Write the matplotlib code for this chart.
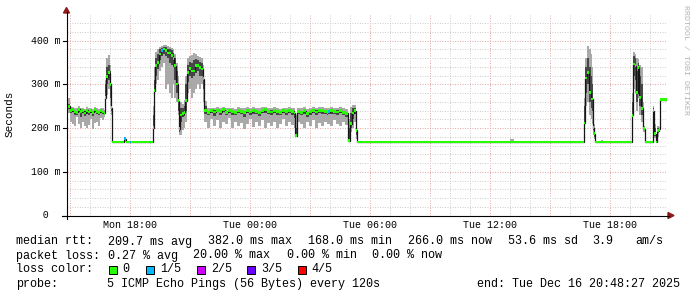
import matplotlib
matplotlib.use('Agg')
import matplotlib.pyplot as plt
import numpy as np
import pandas as pd
from matplotlib.patches import Polygon, Rectangle
from matplotlib.lines import Line2D
import matplotlib.transforms as mtrans

# ---------------- data ----------------
start = pd.Timestamp('2025-12-15 14:48:27')
end = pd.Timestamp('2025-12-16 20:48:27')

# sample start times, hours after `start`
t_h = [0.000, 0.175, 0.275, 0.375, 0.475, 0.575, 0.675, 0.775, 0.875, 0.975,
       1.075, 1.175, 1.275, 1.375, 1.475, 1.575, 1.675, 1.775, 1.875, 1.925,
       1.975, 2.075, 2.175, 2.225, 2.275, 2.875, 2.975, 3.175, 3.225, 4.125,
       4.175, 4.325, 4.375, 4.425, 4.525, 4.625, 4.725, 4.825, 4.925, 5.025,
       5.125, 5.225, 5.325, 5.375, 5.475, 5.575, 5.625, 5.675, 5.775, 5.875,
       5.925, 6.025, 6.125, 6.225, 6.325, 6.425, 6.525, 6.625, 6.725, 6.825,
       6.875, 7.025, 7.175, 7.325, 7.475, 7.625, 7.775, 7.925, 8.075, 8.225,
       8.375, 8.525, 8.675, 8.825, 8.975, 9.125, 9.275, 9.425, 9.575, 9.725,
       9.875, 10.025, 10.175, 10.325, 10.475, 10.625, 10.775, 10.925, 11.075, 11.225,
       11.375, 11.425, 11.525, 11.675, 11.825, 11.975, 12.125, 12.275, 12.425, 12.575,
       12.725, 12.875, 13.025, 13.075, 13.175, 13.325, 13.475, 13.625, 13.775, 13.925,
       14.075, 14.175, 14.275, 14.375, 14.475, 14.525, 22.175, 22.375, 25.875, 25.925,
       26.025, 26.125, 26.225, 26.275, 26.325, 26.375, 26.425, 26.725, 26.825, 28.275,
       28.325, 28.425, 28.475, 28.575, 28.625, 28.725, 28.825, 28.875, 28.925, 29.325,
       29.375, 29.475, 29.525, 29.625, 29.675]

# median rtt (ms)
median_ms = [250, 240, 242, 238, 236, 243, 238, 240, 235, 241,
             237, 240, 236, 242, 238, 236, 240, 237, 234, 270,
             318, 327, 300, 247, 168, 176, 168, 168, 168, 168,
             168, 201, 286, 343, 350, 370, 377, 381, 378, 372,
             372, 366, 360, 343, 301, 263, 199, 230, 233, 236,
             263, 327, 336, 331, 331, 343, 343, 339, 335, 313,
             240, 236, 240, 237, 241, 238, 242, 236, 240, 238,
             236, 241, 238, 236, 240, 237, 240, 238, 236, 240,
             242, 238, 237, 240, 238, 236, 240, 238, 241, 238,
             235, 183, 238, 236, 240, 234, 238, 240, 237, 241,
             240, 238, 236, 238, 240, 238, 237, 240, 236, 234,
             171, 210, 235, 240, 195, 168, 168, 168, 212, 315,
             327, 281, 267, 267, 201, 187, 168, 168, 168, 229,
             347, 343, 281, 339, 270, 245, 199, 199, 168, 240,
             187, 168, 194, 197, 265]

# fastest ping (ms)
min_ms = [235, 215, 210, 205, 225, 210, 200, 215, 205, 200,
          208, 220, 198, 212, 215, 205, 222, 218, 225, 245,
          275, 290, 250, 230, 168, 168, 168, 168, 168, 168,
          168, 185, 240, 300, 310, 330, 340, 350, 290, 300,
          280, 270, 300, 270, 260, 230, 185, 185, 195, 200,
          215, 280, 290, 270, 280, 290, 300, 290, 300, 260,
          215, 200, 220, 205, 218, 200, 215, 210, 222, 200,
          215, 205, 212, 198, 210, 220, 202, 215, 205, 218,
          200, 212, 205, 215, 200, 210, 220, 205, 215, 208,
          200, 180, 215, 210, 200, 215, 205, 218, 200, 212,
          205, 215, 210, 210, 205, 218, 210, 205, 215, 208,
          168, 190, 200, 215, 175, 168, 168, 168, 175, 250,
          260, 230, 220, 210, 185, 175, 168, 168, 168, 190,
          290, 280, 240, 270, 230, 215, 190, 190, 168, 220,
          178, 168, 180, 190, 265]

# 2nd fastest ping (ms)
low_ms = [244, 234, 236, 230, 231, 236, 226, 235, 228, 233,
          230, 235, 228, 236, 232, 229, 235, 232, 229, 255,
          300, 310, 270, 240, 168, 172, 168, 168, 168, 168,
          168, 195, 260, 320, 335, 355, 365, 370, 365, 360,
          350, 345, 340, 310, 280, 240, 192, 215, 225, 228,
          240, 305, 320, 315, 320, 325, 330, 320, 320, 290,
          232, 230, 235, 228, 236, 229, 237, 229, 235, 231,
          230, 234, 232, 226, 235, 231, 233, 232, 228, 234,
          235, 232, 229, 235, 229, 230, 234, 231, 235, 231,
          222, 182, 232, 229, 233, 226, 230, 235, 229, 235,
          233, 232, 229, 232, 233, 232, 230, 234, 229, 226,
          170, 200, 220, 232, 185, 168, 168, 168, 190, 280,
          300, 260, 245, 240, 195, 180, 168, 168, 168, 210,
          320, 310, 260, 300, 250, 230, 195, 195, 168, 230,
          182, 168, 188, 194, 265]

# 2nd slowest ping (ms)
high_ms = [256, 243, 245, 242, 240, 246, 241, 243, 239, 244,
           240, 243, 239, 245, 241, 239, 243, 240, 237, 300,
           340, 345, 330, 280, 168, 178, 168, 168, 168, 168,
           168, 230, 310, 360, 370, 380, 384, 386, 385, 382,
           380, 378, 372, 360, 330, 290, 230, 245, 245, 250,
           300, 345, 352, 350, 355, 358, 355, 352, 350, 335,
           250, 240, 243, 241, 244, 242, 245, 240, 243, 242,
           239, 244, 241, 240, 243, 240, 244, 241, 240, 243,
           245, 242, 241, 243, 242, 239, 243, 241, 244, 242,
           240, 200, 242, 240, 243, 238, 242, 243, 241, 244,
           243, 242, 240, 241, 243, 242, 241, 243, 240, 238,
           200, 235, 245, 246, 215, 168, 168, 168, 250, 340,
           360, 340, 320, 300, 230, 200, 168, 168, 168, 260,
           365, 360, 330, 350, 320, 300, 240, 200, 168, 245,
           200, 168, 200, 200, 265]

# slowest ping (ms)
max_ms = [268, 248, 249, 246, 245, 250, 245, 247, 244, 249,
          245, 247, 244, 249, 246, 244, 247, 245, 242, 310,
          360, 368, 345, 300, 168, 180, 168, 168, 168, 168,
          168, 250, 340, 375, 380, 386, 388, 390, 390, 388,
          386, 384, 380, 370, 350, 320, 250, 260, 255, 265,
          320, 360, 365, 368, 372, 370, 365, 362, 360, 345,
          262, 245, 247, 246, 249, 247, 249, 245, 247, 246,
          244, 248, 246, 245, 248, 245, 248, 246, 245, 248,
          249, 246, 246, 248, 247, 244, 247, 246, 249, 247,
          246, 230, 247, 245, 248, 243, 246, 248, 246, 249,
          248, 247, 245, 246, 248, 246, 246, 248, 245, 244,
          220, 248, 252, 252, 225, 168, 176, 168, 270, 360,
          389, 380, 370, 340, 250, 210, 168, 173, 168, 280,
          375, 370, 360, 358, 345, 340, 260, 205, 168, 250,
          210, 168, 205, 203, 265]

# lost pings out of 5
loss = [0] * 25 + [1, 0, 1, 0, 1, 0] + [0] * 5 + [1] + [0] * 66 + [1] + [0] * 46

loss_labels = ['0', '1/5', '2/5', '3/5', '4/5']
loss_colors = ['#26ff00', '#00b8ff', '#d000ff', '#6a00ff', '#ff0000']

tick_times = ['2025-12-15 18:00', '2025-12-16 00:00', '2025-12-16 06:00',
              '2025-12-16 12:00', '2025-12-16 18:00']
tick_labels = ['Mon 18:00', 'Tue 00:00', 'Tue 06:00', 'Tue 12:00', 'Tue 18:00']
y_major = [0, 100, 200, 300, 400]
y_labels = ['0', '100 m', '200 m', '300 m', '400 m']

stats_rtt = ['median rtt:', '209.7 ms avg', '382.0 ms max', '168.0 ms min',
             '266.0 ms now', '53.6 ms sd', '3.9', 'am/s']
stats_loss = ['packet loss:', '0.27 % avg', '20.00 % max', '0.00 % min', '0.00 % now']
probe_items = ['probe:', '5 ICMP Echo Pings (56 Bytes) every 120s']
end_text = 'end: Tue Dec 16 20:48:27 2025'

# ---------------- figure ----------------
W, H = 697, 297
fig = plt.figure(figsize=(W / 100, H / 100), dpi=100)
fig.patch.set_facecolor('white')
L, R, B, T = 66.5, 666.5, 215.5, 14.5
ax = fig.add_axes([L / W, (H - B) / H, (R - L) / W, (B - T) / H])
span_h = (end - start) / pd.Timedelta(hours=1)
ymax = 460 * (B - T) / 201.0
ax.set_xlim(0, span_h)
ax.set_ylim(0, ymax)
ax.set_axis_off()

MONO = 'Liberation Mono'

# grid
hours = pd.date_range(start.ceil('h'), end, freq='h')
for hh in hours:
    xh = (hh - start) / pd.Timedelta(hours=1)
    major = hh.hour % 3 == 0
    ax.axvline(xh, color='#e6a9a9' if major else '#cfcfcf', lw=0.72,
               linestyle=(0, (1, 1.5)), zorder=0)
for yv in np.arange(20, ymax, 20):
    major = int(round(yv)) % 100 == 0
    ax.axhline(yv, color='#e6a9a9' if major else '#cfcfcf', lw=0.72,
               linestyle=(0, (1, 1.5)), zorder=0)

# smoke
t = np.array(t_h)
edges = np.append(t, span_h)
widths = np.diff(edges)
lo = np.array(min_ms); q1 = np.array(low_ms); q3 = np.array(high_ms); hi = np.array(max_ms)
med = np.array(median_ms)
ax.bar(t, hi - lo, bottom=lo, width=widths, align='edge', color='#a9a9a9',
       linewidth=0, antialiased=False, zorder=2)
ax.bar(t, q3 - q1, bottom=q1, width=widths, align='edge', color='#474747',
       linewidth=0, antialiased=False, zorder=3)
ax.stairs(med, edges, baseline=None, color='#151515', lw=0.9, zorder=4)
ax.bar(t, 6.0, bottom=med - 3.0, width=widths, align='edge',
       color=[loss_colors[v] for v in loss], linewidth=0, antialiased=False, zorder=5)

# axes lines and arrows (pixel coordinates)
def P(x, y):
    return (x / W, 1 - y / H)

fig.add_artist(Line2D([P(62, 215.5)[0], P(669, 215.5)[0]], [P(62, 215.5)[1]] * 2,
                      color='#000000', lw=0.8))
fig.add_artist(Line2D([P(66.5, 219)[0]] * 2, [P(66.5, 219)[1], P(66.5, 12)[1]],
                      color='#000000', lw=0.8))
fig.add_artist(Polygon([P(668, 212.5), P(668, 218.5), P(674, 215.5)], closed=True,
                       color='#8c1a1a', transform=fig.transFigure))
fig.add_artist(Polygon([P(63.5, 13), P(69.5, 13), P(66.5, 7.5)], closed=True,
                       color='#8c1a1a', transform=fig.transFigure))

# y ticks and labels
ytr = mtrans.blended_transform_factory(fig.transFigure, ax.transData)
for yv, lab in zip(y_major, y_labels):
    fig.add_artist(Line2D([P(63, 0)[0], P(66.5, 0)[0]], [yv, yv], color='#000000',
                          lw=0.8, transform=ytr))
    txt = lab if lab != '0' else '0  '
    ax.text(31 / W, yv, txt.rjust(5), transform=ytr, ha='left', va='center',
            fontsize=7.1, family=MONO, color='#000000')

# x tick labels
xtr = mtrans.blended_transform_factory(ax.transData, fig.transFigure)
for ts, lab in zip(tick_times, tick_labels):
    xh = (pd.Timestamp(ts) - start) / pd.Timedelta(hours=1)
    ax.text(xh, P(0, 224.5)[1], lab, transform=xtr, ha='center', va='center',
            fontsize=7.2, family=MONO, color='#000000')

# y axis title
fig.text(*P(10, 114), 'Seconds', rotation=90, ha='center', va='center',
         fontsize=7.9, family=MONO, color='#000000')

# watermark
fig.text(*P(686, 60), 'RRDTOOL / TOBI OETIKER', rotation=270, ha='center', va='center',
         fontsize=6.0, family=MONO, color='#b4b4b4')

# legend
FS = 8.5
y1, y2, y3, y4 = 241.5, 255.5, 269.5, 284
for xp, s in zip([16, 107.6, 207.6, 307.6, 407.6, 508, 592, 635.6], stats_rtt):
    fig.text(*P(xp, y1), s, ha='left', va='center', fontsize=FS, family=MONO)
for xp, s in zip([16, 107.6, 193, 286.7, 372.4], stats_loss):
    fig.text(*P(xp, y2), s, ha='left', va='center', fontsize=FS, family=MONO)
fig.text(*P(16, y3), 'loss color:', ha='left', va='center', fontsize=FS, family=MONO)
for bx, lx, lab, colr in zip([108.5, 145.5, 196.5, 246.5, 297.5],
                             [122, 160, 210.7, 261, 311], loss_labels, loss_colors):
    fig.add_artist(Rectangle(P(bx, y3 + 4), 8 / W, 8 / H, transform=fig.transFigure,
                             facecolor=colr, edgecolor='#000000', lw=0.7))
    fig.text(*P(lx, y3), lab, ha='left', va='center', fontsize=FS, family=MONO)
for xp, s in zip([16, 106.7], probe_items):
    fig.text(*P(xp, y4), s, ha='left', va='center', fontsize=FS, family=MONO)
fig.text(*P(680, y4), end_text, ha='right', va='center', fontsize=FS, family=MONO)

fig.savefig('out.png', dpi=100, facecolor='white')
